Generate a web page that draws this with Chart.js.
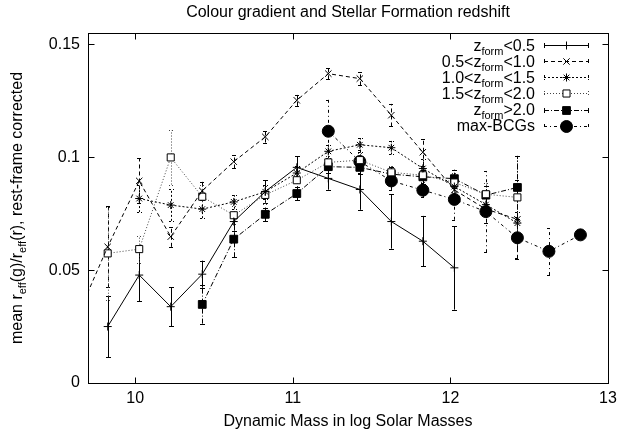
<!DOCTYPE html>
<html>
<head>
<meta charset="utf-8">
<script src="https://cdn.jsdelivr.net/npm/chart.js@4"></script>
<style>
html,body{margin:0;padding:0;background:#fff;}
#wrap{width:635px;height:437px;}
</style>
</head>
<body>
<div id="wrap"><canvas id="chart" width="635" height="437"></canvas></div>
<script>
// dynamic mass bins (log solar masses)
const mass = [9.625, 9.825, 10.025, 10.225, 10.425, 10.625, 10.825, 11.025, 11.225, 11.425, 11.625, 11.825, 12.025, 12.225, 12.425, 12.625, 12.825];

const zLt05     = [null, 0.025, 0.0478, 0.0338, 0.0482, 0.0715, 0.0848, 0.0955, 0.0906, 0.0857, 0.0715, 0.0628, 0.051, null, null, null, null];
const zLt05Err  = [null, 0.0137, 0.0115, 0.0087, 0.006, 0.004, 0.005, 0.005, 0.005, 0.009, 0.012, 0.0112, 0.0185, null, null, null, null];
const z05to10   = [0.0283, 0.0603, 0.0895, 0.0648, 0.0851, 0.098, 0.109, 0.1252, 0.137, 0.1348, 0.1186, 0.1022, 0.0855, 0.077, 0.0725, null, null];
const z05to10Err= [0, 0.018, 0.01, 0.0045, 0.004, 0.003, 0.0025, 0.0025, 0.0025, 0.003, 0.005, 0.006, 0.006, 0.006, 0.0175, null, null];
const z10to15   = [null, null, 0.0817, 0.0788, 0.077, 0.0802, 0.0847, 0.093, 0.1026, 0.1055, 0.1042, 0.095, 0.087, 0.079, 0.0708, null, null];
const z10to15Err= [null, null, 0.006, 0.007, 0.004, 0.003, 0.003, 0.003, 0.003, 0.003, 0.003, 0.004, 0.004, 0.004, 0.005, null, null];
const z15to20   = [null, 0.0574, 0.0593, 0.0999, 0.0825, 0.0743, 0.0833, 0.0898, 0.0977, 0.0987, 0.0933, 0.092, 0.0888, 0.0836, 0.0822, null, null];
const z15to20Err= [null, 0.0205, 0.006, 0.012, 0.005, 0.004, 0.004, 0.003, 0.003, 0.003, 0.003, 0.003, 0.004, 0.005, 0.0185, null, null];
const zGt20     = [null, null, null, null, 0.0348, 0.0637, 0.0747, 0.0839, 0.0958, 0.0955, 0.0925, 0.0913, 0.0905, 0.0832, 0.0866, null, null];
const zGt20Err  = [null, null, null, null, 0.0085, 0.008, 0.003, 0.003, 0.003, 0.003, 0.003, 0.003, 0.004, 0.004, 0.014, null, null];
const maxBCG    = [null, null, null, null, null, null, null, null, 0.1115, 0.0981, 0.0895, 0.0854, 0.0813, 0.0759, 0.0643, 0.0583, 0.0656];
const maxBCGErr = [null, null, null, null, null, null, null, null, 0.014, 0.005, 0.004, 0.003, 0.009, 0.018, 0.009, 0.0105, 0];

const xTicks = [10, 11, 12, 13];
const yTicks = [0, 0.05, 0.1, 0.15];

const FONT = '"Liberation Sans", Arial, Helvetica, sans-serif';

function pts(vals, errs) {
  return mass.map((m, i) => ({x: m, y: vals[i], e: errs[i]})).filter(p => p.y !== null);
}

// legend text pieces: [text, isSubscript]
const legendRows = [
  [['z', 0], ['form', 1], ['<0.5', 0]],
  [['0.5<z', 0], ['form', 1], ['<1.0', 0]],
  [['1.0<z', 0], ['form', 1], ['<1.5', 0]],
  [['1.5<z', 0], ['form', 1], ['<2.0', 0]],
  [['z', 0], ['form', 1], ['>2.0', 0]],
  [['max-BCGs', 0]]
];

const styles = [
  {color: '#000', dash: [],           style: 'cross',    r: 4,   fill: '#000'},
  {color: '#000', dash: [4, 3],       style: 'crossRot', r: 4.5, fill: '#000'},
  {color: '#000', dash: [2, 2],       style: 'star',     r: 4,   fill: '#000'},
  {color: '#444', dash: [1, 2],       style: 'rect',     r: 5,   fill: '#fff'},
  {color: '#000', dash: [5, 2, 1, 2], style: 'rect',     r: 5.5, fill: '#000'},
  {color: '#000', dash: [3, 3, 1, 3], style: 'circle',   r: 6,   fill: '#000'}
];

const seriesData = [
  pts(zLt05, zLt05Err), pts(z05to10, z05to10Err), pts(z10to15, z10to15Err),
  pts(z15to20, z15to20Err), pts(zGt20, zGt20Err), pts(maxBCG, maxBCGErr)
];
const labels = ['z_form<0.5', '0.5<z_form<1.0', '1.0<z_form<1.5', '1.5<z_form<2.0', 'z_form>2.0', 'max-BCGs'];

const datasets = seriesData.map((d, i) => ({
  label: labels[i],
  data: d,
  showLine: true,
  borderColor: styles[i].color,
  borderWidth: 1,
  borderDash: styles[i].dash,
  pointStyle: styles[i].style,
  pointRadius: styles[i].r,
  pointBorderColor: '#000',
  pointBackgroundColor: styles[i].fill,
  pointBorderWidth: 1,
  tension: 0
}));

function drawRich(ctx, parts, xRight, y) {
  // right aligned text with subscripts, y = baseline
  let w = 0;
  parts.forEach(p => { ctx.font = (p[1] ? '11px ' : '16px ') + FONT; w += ctx.measureText(p[0]).width; });
  let x = xRight - w;
  parts.forEach(p => {
    ctx.font = (p[1] ? '11px ' : '16px ') + FONT;
    ctx.fillText(p[0], x, p[1] ? y + 4 : y);
    x += ctx.measureText(p[0]).width;
  });
}

const errorBars = {
  id: 'errorBars',
  beforeDatasetsDraw(chart) {
    const ctx = chart.ctx, a = chart.chartArea;
    const ys = chart.scales.y;
    ctx.save();
    ctx.beginPath();
    ctx.rect(a.left, a.top, a.right - a.left, a.bottom - a.top);
    ctx.clip();
    chart.data.datasets.forEach((ds, di) => {
      const meta = chart.getDatasetMeta(di);
      ctx.strokeStyle = styles[di].color;
      ctx.lineWidth = 1;
      ctx.setLineDash(styles[di].dash);
      meta.data.forEach((el, i) => {
        const p = ds.data[i];
        if (!p.e) return;
        const x = Math.round(el.x) + 0.5;
        const y1 = ys.getPixelForValue(p.y - p.e);
        const y2 = ys.getPixelForValue(p.y + p.e);
        ctx.beginPath();
        ctx.moveTo(x, y1); ctx.lineTo(x, y2);
        ctx.moveTo(x - 2.5, Math.round(y1) + 0.5); ctx.lineTo(x + 2.5, Math.round(y1) + 0.5);
        ctx.moveTo(x - 2.5, Math.round(y2) + 0.5); ctx.lineTo(x + 2.5, Math.round(y2) + 0.5);
        ctx.stroke();
      });
    });
    ctx.restore();
  }
};

const frame = {
  id: 'frame',
  afterDraw(chart) {
    const ctx = chart.ctx, a = chart.chartArea;
    const xs = chart.scales.x, ys = chart.scales.y;
    ctx.save();
    ctx.strokeStyle = '#000';
    ctx.lineWidth = 1;
    ctx.setLineDash([]);
    const L = Math.round(a.left) + 0.5, R = Math.round(a.right) + 0.5;
    const T = Math.round(a.top) + 0.5, B = Math.round(a.bottom) + 0.5;
    ctx.strokeRect(L, T, R - L, B - T);
    ctx.beginPath();
    xTicks.forEach(v => {
      const x = Math.round(xs.getPixelForValue(v)) + 0.5;
      ctx.moveTo(x, B); ctx.lineTo(x, B - 6);
      ctx.moveTo(x, T); ctx.lineTo(x, T + 6);
    });
    yTicks.forEach(v => {
      const y = Math.round(ys.getPixelForValue(v)) + 0.5;
      ctx.moveTo(L, y); ctx.lineTo(L + 6, y);
      ctx.moveTo(R, y); ctx.lineTo(R - 6, y);
    });
    ctx.stroke();

    ctx.fillStyle = '#000';
    // title
    ctx.font = '16px ' + FONT;
    ctx.textAlign = 'center';
    ctx.textBaseline = 'middle';
    ctx.fillText('Colour gradient and Stellar Formation redshift', (a.left + a.right) / 2, 13);
    // x axis title
    ctx.fillText('Dynamic Mass in log Solar Masses', (a.left + a.right) / 2, 422);

    // y axis title with subscripts
    ctx.save();
    ctx.translate(18, (a.top + a.bottom) / 2);
    ctx.rotate(-Math.PI / 2);
    ctx.textAlign = 'left';
    ctx.textBaseline = 'alphabetic';
    const yParts = [['mean r', 0], ['eff', 1], ['(g)/r', 0], ['eff', 1], ['(r), rest-frame corrected', 0]];
    let tw = 0;
    yParts.forEach(p => { ctx.font = (p[1] ? '11px ' : '16px ') + FONT; tw += ctx.measureText(p[0]).width; });
    let x = -tw / 2;
    yParts.forEach(p => {
      ctx.font = (p[1] ? '11px ' : '16px ') + FONT;
      ctx.fillText(p[0], x, p[1] ? 4 + 4 : 4);
      x += ctx.measureText(p[0]).width;
    });
    ctx.restore();

    // key
    ctx.textAlign = 'left';
    ctx.textBaseline = 'alphabetic';
    legendRows.forEach((parts, i) => {
      const y = 45 + i * 16.15;
      drawRich(ctx, parts, 535, y + 5.5);
      const s = styles[i];
      const yy = Math.round(y) + 0.5;
      ctx.strokeStyle = s.color;
      ctx.setLineDash(s.dash);
      ctx.beginPath();
      ctx.moveTo(544, yy); ctx.lineTo(589, yy);
      ctx.moveTo(544.5, yy - 2.5); ctx.lineTo(544.5, yy + 2.5);
      ctx.moveTo(588.5, yy - 2.5); ctx.lineTo(588.5, yy + 2.5);
      ctx.stroke();
      ctx.setLineDash([]);
      ctx.strokeStyle = '#000';
      ctx.fillStyle = s.fill;
      ctx.lineWidth = 1;
      if (Chart.helpers && Chart.helpers.drawPoint) {
        Chart.helpers.drawPoint(ctx, {pointStyle: s.style, radius: s.r, rotation: 0, borderWidth: 1}, 566.5, yy);
      }
      ctx.fillStyle = '#000';
    });
    ctx.restore();
  }
};

new Chart(document.getElementById('chart'), {
  type: 'scatter',
  data: {datasets},
  options: {
    responsive: false,
    animation: false,
    devicePixelRatio: 1,
    layout: {padding: {top: 33, right: 27, left: 0, bottom: 0}},
    plugins: {legend: {display: false}, title: {display: false}, tooltip: {enabled: false}},
    scales: {
      x: {
        type: 'linear', min: 9.7, max: 13,
        afterFit: s => { s.height = 54; },
        afterBuildTicks: s => { s.ticks = xTicks.map(v => ({value: v})); },
        grid: {display: false, drawTicks: false},
        border: {display: false},
        ticks: {color: '#000', font: {family: FONT, size: 16}, padding: 6, callback: v => String(v)}
      },
      y: {
        type: 'linear', min: 0, max: 0.155,
        afterFit: s => { s.width = 88; },
        afterBuildTicks: s => { s.ticks = yTicks.map(v => ({value: v})); },
        grid: {display: false, drawTicks: false},
        border: {display: false},
        ticks: {color: '#000', font: {family: FONT, size: 16}, padding: 8, callback: v => String(v)}
      }
    }
  },
  plugins: [errorBars, frame]
});
</script>
</body>
</html>
